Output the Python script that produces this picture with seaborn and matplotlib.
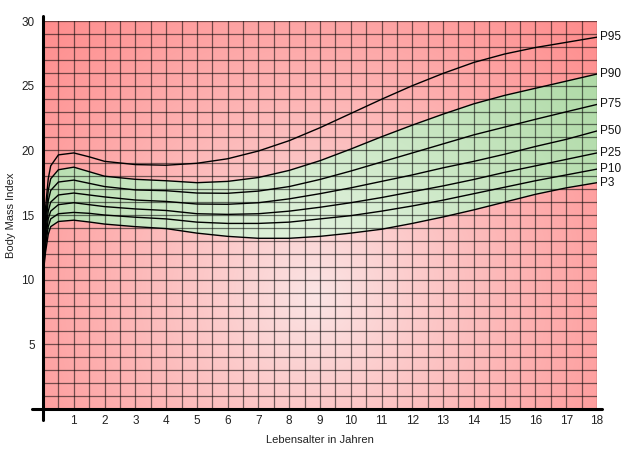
import numpy as np
import pandas as pd
import matplotlib
matplotlib.use("Agg")
import matplotlib.pyplot as plt
from matplotlib.ticker import MultipleLocator, FixedLocator
import seaborn as sns

ages = [0, 0.08, 0.17, 0.25, 0.5, 1, 1.5, 2, 3, 4, 5, 6, 7, 8, 9,
        10, 11, 12, 13, 14, 15, 16, 17, 18]

p95 = [10.3, 15.5, 17.8, 18.8, 19.65, 19.8, 19.5, 19.15, 18.9, 18.85, 19.0, 19.35,
       19.95, 20.75, 21.75, 22.85, 23.95, 25.0, 25.95, 26.8, 27.45, 27.95, 28.35, 28.75]
p90 = [10.3, 14.6, 16.9, 17.8, 18.5, 18.7, 18.35, 18.0, 17.76, 17.65, 17.5, 17.6,
       17.9, 18.45, 19.2, 20.1, 21.05, 21.95, 22.8, 23.6, 24.25, 24.8, 25.35, 25.9]
p75 = [10.3, 14.0, 16.1, 16.9, 17.55, 17.7, 17.45, 17.2, 16.94, 16.88, 16.7, 16.68,
       16.85, 17.2, 17.75, 18.4, 19.1, 19.8, 20.5, 21.2, 21.8, 22.4, 22.98, 23.55]
p50 = [10.3, 13.5, 15.3, 16.0, 16.55, 16.7, 16.55, 16.4, 16.16, 16.05, 15.85, 15.83,
       15.95, 16.25, 16.65, 17.1, 17.6, 18.1, 18.65, 19.15, 19.7, 20.3, 20.85, 21.5]
p25 = [10.3, 13.0, 14.7, 15.3, 15.8, 15.95, 15.8, 15.65, 15.47, 15.35, 15.1, 15.05,
       15.1, 15.3, 15.6, 15.95, 16.35, 16.8, 17.25, 17.75, 18.3, 18.8, 19.3, 19.8]
p10 = [10.3, 12.6, 14.1, 14.7, 15.1, 15.2, 15.13, 15.0, 14.83, 14.7, 14.45, 14.35,
       14.35, 14.45, 14.7, 14.95, 15.3, 15.7, 16.15, 16.65, 17.15, 17.65, 18.1, 18.55]
p3 = [10.3, 12.1, 13.5, 14.1, 14.5, 14.6, 14.46, 14.3, 14.1, 13.95, 13.6, 13.35,
      13.2, 13.2, 13.35, 13.6, 13.9, 14.35, 14.85, 15.4, 16.0, 16.6, 17.1, 17.5]

curves = {"P95": p95, "P90": p90, "P75": p75, "P50": p50,
          "P25": p25, "P10": p10, "P3": p3}

df = pd.DataFrame([(name, a, v) for name, vals in curves.items()
                   for a, v in zip(ages, vals)], columns=["pct", "age", "bmi"])

sns.set_style("white")
plt.rcParams["font.family"] = ["Liberation Sans", "DejaVu Sans"]

fig = plt.figure(figsize=(6.4, 4.53), dpi=100)
ax = fig.add_axes([0.0672, 0.0971, 0.8656, 0.8565])
ax.set_xlim(0, 18)
ax.set_ylim(0, 30)

# radial shading (same centre for the red background and the green band)
aa, bb = np.meshgrid(np.linspace(0, 18, 400), np.linspace(0, 30, 400))
dist = np.sqrt(((aa - 8.9) * 30.78) ** 2 + ((bb - 8.8) * 12.93) ** 2)
t = np.clip(dist / 390, 0, 1)[..., None] ** 0.9

def shade(inner, outer):
    c0 = np.array(matplotlib.colors.to_rgb(inner))
    c1 = np.array(matplotlib.colors.to_rgb(outer))
    return c0 + (c1 - c0) * t

ax.imshow(shade("#fbe6e6", "#ff8c8c"), extent=[0, 18, 0, 30], origin="lower",
          aspect="auto", zorder=0, interpolation="bilinear")
band = ax.fill_between(ages, p3, p90, facecolor="none", edgecolor="none")
green = ax.imshow(shade("#ecf7e9", "#aad8a1"), extent=[0, 18, 0, 30], origin="lower",
                  aspect="auto", zorder=0.5, interpolation="bilinear")
green.set_clip_path(band.get_paths()[0], transform=ax.transData)

sns.lineplot(data=df, x="age", y="bmi", units="pct", estimator=None,
             color="black", lw=1, ax=ax, zorder=3)

ax.xaxis.set_major_locator(FixedLocator(range(1, 19)))
ax.xaxis.set_minor_locator(MultipleLocator(0.5))
ax.yaxis.set_major_locator(FixedLocator(range(5, 31, 5)))
ax.yaxis.set_minor_locator(MultipleLocator(1))
ax.grid(which="both", color="black", alpha=0.55, lw=0.9, zorder=1)
ax.set_axisbelow(False)
for gl in ax.get_xgridlines() + ax.get_ygridlines():
    gl.set_zorder(1)
ax.tick_params(axis="x", which="both", length=0, pad=4, labelsize=8.5, labelcolor="#222222")
ax.tick_params(axis="y", which="both", length=4, width=0.9, color="#555555",
               pad=2, labelsize=8.5, labelcolor="#222222")

for s in ax.spines.values():
    s.set_visible(False)
ax.plot([-0.02, 1.009], [0, 0], transform=ax.transAxes, color="black",
        lw=2.2, clip_on=False, zorder=5)
ax.plot([0, 0], [-0.028, 1.013], transform=ax.transAxes, color="black",
        lw=2.2, clip_on=False, zorder=5)

for name, vals in curves.items():
    ax.text(18.1, vals[-1], name, fontsize=8.5, color="#111111",
            va="center", ha="left")

ax.set_xlabel("Lebensalter in Jahren", fontsize=8, color="#222222", labelpad=6)
ax.set_ylabel("Body Mass Index", fontsize=8, color="#222222", labelpad=4)

fig.savefig("out.png", dpi=100)
